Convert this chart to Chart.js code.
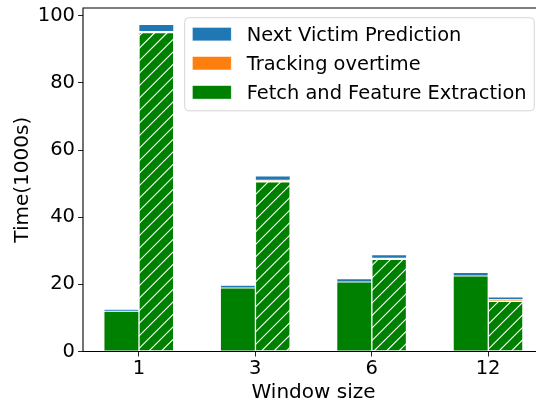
<!DOCTYPE html>
<html>
<head>
<meta charset="utf-8">
<script src="https://cdn.jsdelivr.net/npm/chart.js@4.4.1/dist/chart.umd.min.js"></script>
<style>
  html, body { margin: 0; padding: 0; overflow: hidden; background: #fff; }
  #wrap { width: 552px; height: 403px; }
</style>
</head>
<body>
<div id="wrap"><canvas id="chart" width="552" height="403"></canvas></div>
<script>
// Window sizes on the x axis (bars sit at positions 0..3)
const tickLabels = ['1', '3', '6', '12'];
const positions = [0, 1, 2, 3];

// Stack segment names, bottom to top
const seriesNames = ['Fetch and Feature Extraction', 'Tracking overtime', 'Next Victim Prediction'];
const seriesColors = ['#008000', '#ff7f0e', '#1f77b4'];

// Plain (left) bars, time in thousands of seconds
const fetchPlain = [12.0, 18.9, 20.7, 22.5];
const trackPlain = [0, 0, 0, 0];
const predictPlain = [0.6, 0.8, 1.0, 1.0];

// Hatched (right) bars
const fetchHatched = [95.0, 50.6, 27.5, 15.0];
const trackHatched = [0.3, 0.4, 0.3, 0.4];
const predictHatched = [2.1, 1.3, 1.0, 0.8];

const yTicks = [0, 20, 40, 60, 80, 100];

Chart.defaults.font.family = "'DejaVu Sans', sans-serif";
Chart.defaults.color = '#000';

const toPoints = vals => vals.map((v, i) => ({ x: positions[i], y: v }));

function makeSet(label, vals, color, stack, hatched) {
  return {
    label,
    data: toPoints(vals),
    backgroundColor: color,
    borderColor: '#ffffff',
    borderWidth: hatched ? 0.8 : 0.5,
    borderSkipped: false,
    stack,
    hatched,
    categoryPercentage: 0.6,
    barPercentage: 1.0
  };
}

const plainSets = [fetchPlain, trackPlain, predictPlain];
const hatchedSets = [fetchHatched, trackHatched, predictHatched];

const datasets = [];
plainSets.forEach((vals, k) => datasets.push(makeSet(seriesNames[k], vals, seriesColors[k], 'plain', false)));
hatchedSets.forEach((vals, k) => datasets.push(makeSet(seriesNames[k], vals, seriesColors[k], 'hatched', k === 0)));

// White "//" hatching over the hatched fetch segments
const hatchPlugin = {
  id: 'hatch',
  afterDatasetsDraw(chart) {
    const ctx = chart.ctx;
    const spacing = 12.5;
    chart.data.datasets.forEach((ds, i) => {
      if (!ds.hatched) return;
      chart.getDatasetMeta(i).data.forEach(bar => {
        const p = bar.getProps(['x', 'y', 'base', 'width'], true);
        const l = p.x - p.width / 2, r = p.x + p.width / 2;
        const t = Math.min(p.y, p.base), b = Math.max(p.y, p.base);
        ctx.save();
        ctx.beginPath();
        ctx.rect(l, t, r - l, b - t);
        ctx.clip();
        ctx.strokeStyle = '#ffffff';
        ctx.lineWidth = 1.1;
        ctx.beginPath();
        const start = Math.floor((l + t) / spacing) * spacing;
        for (let c = start; c <= r + b + spacing; c += spacing) {
          ctx.moveTo(c - t, t);
          ctx.lineTo(c - b, b);
        }
        ctx.stroke();
        ctx.restore();
      });
    });
  }
};

// Axes frame drawn over the bars
const framePlugin = {
  id: 'frame',
  afterDatasetsDraw(chart) {
    const { ctx, chartArea: a } = chart;
    ctx.save();
    ctx.strokeStyle = '#000';
    ctx.lineWidth = 1.1;
    ctx.beginPath();
    ctx.moveTo(a.left, a.bottom); ctx.lineTo(a.left, a.top);
    ctx.lineTo(a.right, a.top); ctx.lineTo(a.right, a.bottom);
    ctx.closePath();
    ctx.stroke();
    ctx.restore();
  }
};

// Boxed legend in the upper right corner of the plot
const boxLegendPlugin = {
  id: 'boxLegend',
  afterDraw(chart) {
    const { ctx, chartArea: a } = chart;
    const fs = 19.4;
    const font = `${fs}px 'DejaVu Sans', sans-serif`;
    ctx.save();
    ctx.font = font;
    const entries = [2, 1, 0];
    const textW = Math.max(...entries.map(k => ctx.measureText(seriesNames[k]).width));
    const pad = 0.4 * fs, handleW = 2.0 * fs, handleGap = 0.8 * fs, rowH = 1.5 * fs;
    const w = pad + handleW + handleGap + textW + pad;
    const h = 2 * pad + rowH * entries.length - 0.5 * fs;
    const right = a.right - 0.5 * fs, top = a.top + 0.5 * fs;
    const left = right - w;
    const rad = 4;
    ctx.beginPath();
    ctx.moveTo(left + rad, top);
    ctx.arcTo(right, top, right, top + h, rad);
    ctx.arcTo(right, top + h, left, top + h, rad);
    ctx.arcTo(left, top + h, left, top, rad);
    ctx.arcTo(left, top, right, top, rad);
    ctx.closePath();
    ctx.fillStyle = 'rgba(255,255,255,0.8)';
    ctx.fill();
    ctx.strokeStyle = 'rgba(204,204,204,0.8)';
    ctx.lineWidth = 1;
    ctx.stroke();
    entries.forEach((k, row) => {
      const cy = top + pad + 8.7 + row * rowH;
      const hx = left + pad;
      ctx.fillStyle = seriesColors[k];
      ctx.fillRect(hx, cy - 6.7, handleW, 13.4);
      ctx.strokeStyle = 'rgba(255,255,255,0.7)';
      ctx.lineWidth = 0.6;
      ctx.strokeRect(hx, cy - 6.7, handleW, 13.4);
      ctx.fillStyle = '#000';
      ctx.textBaseline = 'alphabetic';
      ctx.textAlign = 'left';
      ctx.fillText(seriesNames[k], hx + handleW + handleGap, cy + 7.0);
    });
    ctx.restore();
  }
};

function noEdgePadding(scale) {
  scale.paddingTop = 0;
  scale.paddingBottom = 0;
  scale.paddingLeft = 0;
  scale.paddingRight = 0;
}

new Chart(document.getElementById('chart'), {
  type: 'bar',
  data: { datasets },
  plugins: [hatchPlugin, framePlugin, boxLegendPlugin],
  options: {
    responsive: false,
    animation: false,
    devicePixelRatio: 1,
    layout: { padding: { top: 8, right: 8, left: 0, bottom: 0 } },
    plugins: { legend: { display: false }, tooltip: { enabled: false } },
    scales: {
      x: {
        type: 'linear',
        min: -0.48,
        max: 3.48,
        offset: false,
        grid: { offset: false, drawOnChartArea: false, drawTicks: true, tickLength: 5, tickColor: '#222', tickWidth: 1 },
        border: { display: false },
        afterBuildTicks: scale => { scale.ticks = positions.map(v => ({ value: v })); },
        afterFit: scale => { scale.height = 51.5; noEdgePadding(scale); },
        ticks: {
          padding: 1,
          font: { size: 19.5 },
          color: '#000',
          maxRotation: 0,
          callback: v => tickLabels[v]
        },
        title: { display: true, text: 'Window size', font: { size: 20 }, color: '#000', padding: { top: 0, bottom: -2 } }
      },
      y: {
        type: 'linear',
        stacked: true,
        min: 0,
        max: 102.3,
        grid: { drawOnChartArea: false, drawTicks: true, tickLength: 5, tickColor: '#222', tickWidth: 1 },
        border: { display: false },
        afterBuildTicks: scale => { scale.ticks = yTicks.map(v => ({ value: v })); },
        afterFit: scale => { scale.width = 83; noEdgePadding(scale); },
        ticks: { padding: 3, font: { size: 19.5 }, color: '#000' },
        title: { display: true, text: 'Time(1000s)', font: { size: 20 }, color: '#000', padding: { top: 11, bottom: 0 } }
      }
    }
  }
});
</script>
</body>
</html>
